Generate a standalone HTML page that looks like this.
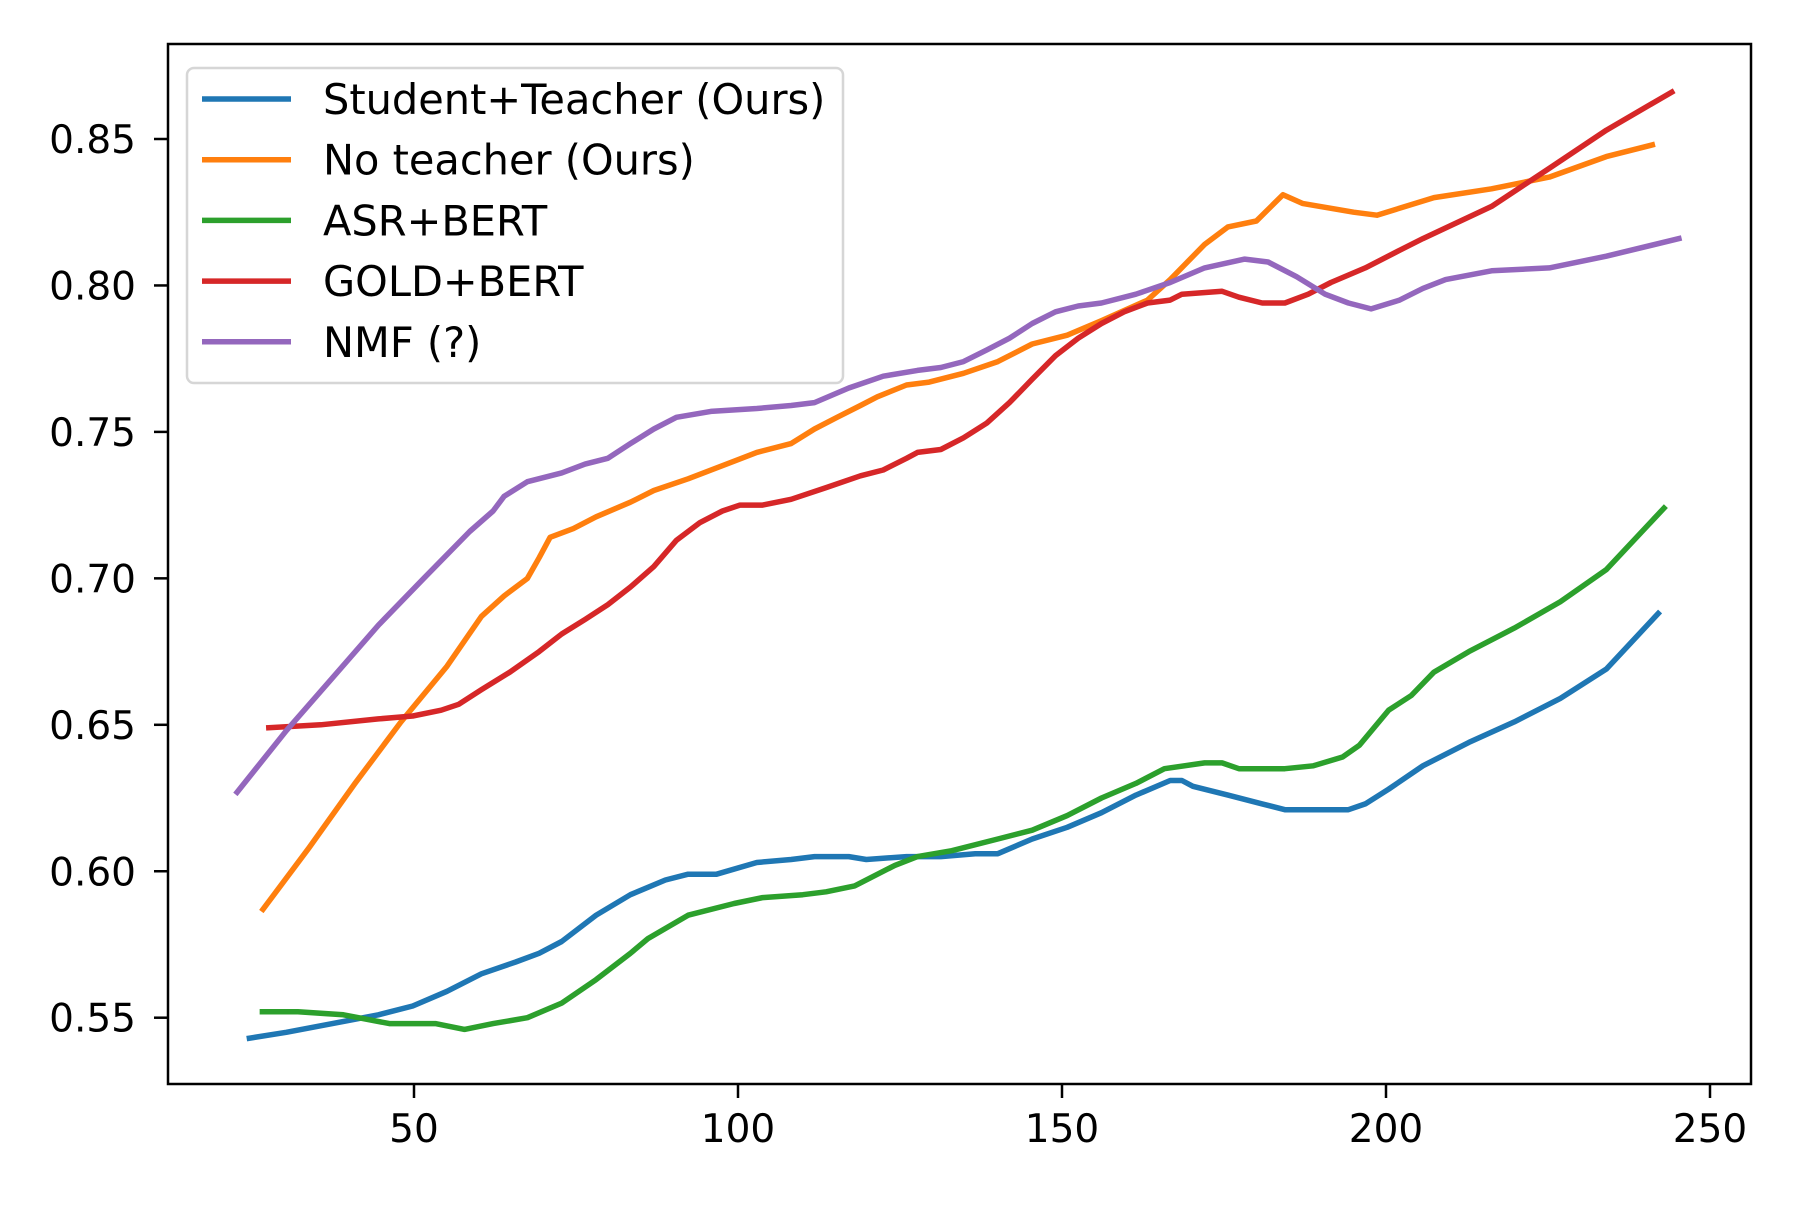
<!DOCTYPE html>
<html><head><meta charset="utf-8"><style>
html,body{margin:0;padding:0;background:#fff;}
svg text{font-family:"DejaVu Sans","Liberation Sans",sans-serif;font-size:39px;fill:#000;}
svg #legend text{font-size:41.5px;}
</style></head><body>
<svg id="chart" width="1800" height="1200" viewBox="0 0 1800 1200" xmlns="http://www.w3.org/2000/svg">
<rect x="0" y="0" width="1800" height="1200" fill="#fff"/>
<g id="plot"></g>
<g id="axes"></g>
<g id="legend"></g>
</svg>
<script>
const xTicks = [50, 100, 150, 200, 250];
const yTicks = [0.55, 0.60, 0.65, 0.70, 0.75, 0.80, 0.85];
const yTickLabels = ["0.55", "0.60", "0.65", "0.70", "0.75", "0.80", "0.85"];
const seriesNames = ["Student+Teacher (Ours)", "No teacher (Ours)", "ASR+BERT", "GOLD+BERT", "NMF (?)"];
const seriesColors = ["#1f77b4", "#ff7f0e", "#2ca02c", "#d62728", "#9467bd"];

const blueX = [24.6,30.3,37.4,44.5,49.8,55.1,60.4,65.7,69.3,72.8,78.1,83.4,88.8,92.3,96.7,102.9,108.2,111.8,117.1,119.8,126,131.3,136.6,140.1,145.4,150.8,156.1,161.4,166.7,168.5,170.2,175.6,180.9,184.4,189.7,194.2,196.8,200.4,205.7,212.8,219.8,226.9,234,242];
const blueY = [.543,.545,.548,.551,.554,.559,.565,.569,.572,.576,.585,.592,.597,.599,.599,.603,.604,.605,.605,.604,.605,.605,.606,.606,.611,.615,.620,.626,.631,.631,.629,.626,.623,.621,.621,.621,.623,.628,.636,.644,.651,.659,.669,.688];

const orangeX = [26.7,33.8,40.9,48,55.1,60.4,63.9,67.5,69.3,71,74.6,78.1,83.4,87,92.3,99.4,102.9,108.2,111.8,115.3,118.9,121.5,126,129.5,134.8,140.1,145.4,150.8,156.1,163.2,166.7,172,175.6,180,184.1,187.1,195,198.6,207.4,216.3,225.2,234,241.1];
const orangeY = [.587,.608,.630,.651,.670,.687,.694,.700,.707,.714,.717,.721,.726,.730,.734,.740,.743,.746,.751,.755,.759,.762,.766,.767,.770,.774,.780,.783,.788,.795,.802,.814,.820,.822,.831,.828,.825,.824,.830,.833,.837,.844,.848];

const greenX = [26.6,32.1,39.1,46.2,53.3,57.8,62.2,67.5,72.8,78.1,83.4,86.1,92.3,99.4,103.8,110,113.6,118,124.2,127.7,133,140.1,145.4,150.8,156.1,161.4,165.8,172,174.7,177.3,180.9,184.4,188.8,193.3,195.9,200.4,203.9,207.4,212.8,219.8,226.9,234,242.9];
const greenY = [.552,.552,.551,.548,.548,.546,.548,.550,.555,.563,.572,.577,.585,.589,.591,.592,.593,.595,.602,.605,.607,.611,.614,.619,.625,.630,.635,.637,.637,.635,.635,.635,.636,.639,.643,.655,.660,.668,.675,.683,.692,.703,.724];

const redX = [27.6,35.6,44.5,49.8,54.2,56.9,60.4,64.8,69.3,72.8,76.4,79.9,83.4,87,90.5,94.1,97.6,100.3,103.8,108.2,113.6,118.9,122.4,126,127.7,131.3,134.8,138.4,141.9,145.4,149,152.5,156.1,159.6,163.2,166.7,168.5,174.7,177.3,180.9,184.4,188,191.5,196.8,202.1,205.7,216.3,225.2,234,244.1];
const redY = [.649,.650,.652,.653,.655,.657,.662,.668,.675,.681,.686,.691,.697,.704,.713,.719,.723,.725,.725,.727,.731,.735,.737,.741,.743,.744,.748,.753,.760,.768,.776,.782,.787,.791,.794,.795,.797,.798,.796,.794,.794,.797,.801,.806,.812,.816,.827,.840,.853,.866];

const purpleX = [22.7,30.3,37.4,44.5,51.5,58.6,62.2,63.9,67.5,72.8,76.4,79.9,83.4,87,90.5,95.8,102.9,108.2,111.8,117.1,122.4,127.7,131.3,134.8,138.4,141.9,145.4,149,152.5,156.1,161.4,166.7,172,178.2,181.8,186.2,190.6,194.2,197.7,202.1,205.7,209.2,216.3,225.2,234,245.2];
const purpleY = [.627,.648,.666,.684,.700,.716,.723,.728,.733,.736,.739,.741,.746,.751,.755,.757,.758,.759,.760,.765,.769,.771,.772,.774,.778,.782,.787,.791,.793,.794,.797,.801,.806,.809,.808,.803,.797,.794,.792,.795,.799,.802,.805,.806,.810,.816];

const NS = "http://www.w3.org/2000/svg";
const L = 168, R = 1751, T = 44, B = 1084;
function xs(v){ return 90 + 6.48 * v; }
function ys(v){ return 139 + (0.85 - v) * 2929; }
function mk(tag, attrs, parent){
  const e = document.createElementNS(NS, tag);
  for (const k in attrs) e.setAttribute(k, attrs[k]);
  parent.appendChild(e);
  return e;
}
const plot = document.getElementById('plot');
const axes = document.getElementById('axes');
const legend = document.getElementById('legend');

const allX = [blueX, orangeX, greenX, redX, purpleX];
const allY = [blueY, orangeY, greenY, redY, purpleY];
const lineNames = ["series-student-teacher", "series-no-teacher", "series-asr-bert", "series-gold-bert", "series-nmf"];
for (let s = 0; s < 5; s++) {
  const pts = allX[s].map((x, i) => xs(x).toFixed(1) + "," + ys(allY[s][i]).toFixed(1)).join(" ");
  const pl = mk('polyline', {points: pts, fill: 'none', stroke: seriesColors[s], 'stroke-width': 5.5, 'stroke-linejoin': 'round', 'stroke-linecap': 'square'}, plot);
  
  
}

const frame = mk('rect', {x: L, y: T, width: R - L, height: B - T, fill: 'none', stroke: '#000', 'stroke-width': 2.5}, axes);



xTicks.forEach((t) => {
  const x = xs(t);
  const tk = mk('line', {x1: x, x2: x, y1: B, y2: B + 14, stroke: '#000', 'stroke-width': 2.5}, axes);
  
  
  const tx = mk('text', {x: x, y: B + 58, 'text-anchor': 'middle'}, axes);
  tx.textContent = String(t);
  
  
});
yTicks.forEach((t, i) => {
  const y = ys(t);
  const tk = mk('line', {x1: L - 14, x2: L, y1: y, y2: y, stroke: '#000', 'stroke-width': 2.5}, axes);
  
  
  const tx = mk('text', {x: L - 32, y: y + 14, 'text-anchor': 'end'}, axes);
  tx.textContent = yTickLabels[i];
  
  
});

const box = mk('rect', {x: 187, y: 68, width: 656, height: 315, rx: 7, fill: '#fff', 'fill-opacity': 0.8, stroke: '#d6d6d6', 'stroke-width': 2.5}, legend);


const legendNames = ["legend-entry-student-teacher", "legend-entry-no-teacher", "legend-entry-asr-bert", "legend-entry-gold-bert", "legend-entry-nmf"];
seriesNames.forEach((n, i) => {
  const y = 99 + i * 60.7;
  const g = mk('g', {}, legend);
  
  
  mk('line', {x1: 202, x2: 291, y1: y, y2: y, stroke: seriesColors[i], 'stroke-width': 5.5}, g);
  const tx = mk('text', {x: 323, y: y + 15}, g);
  tx.textContent = n;
});
</script>
</body></html>
